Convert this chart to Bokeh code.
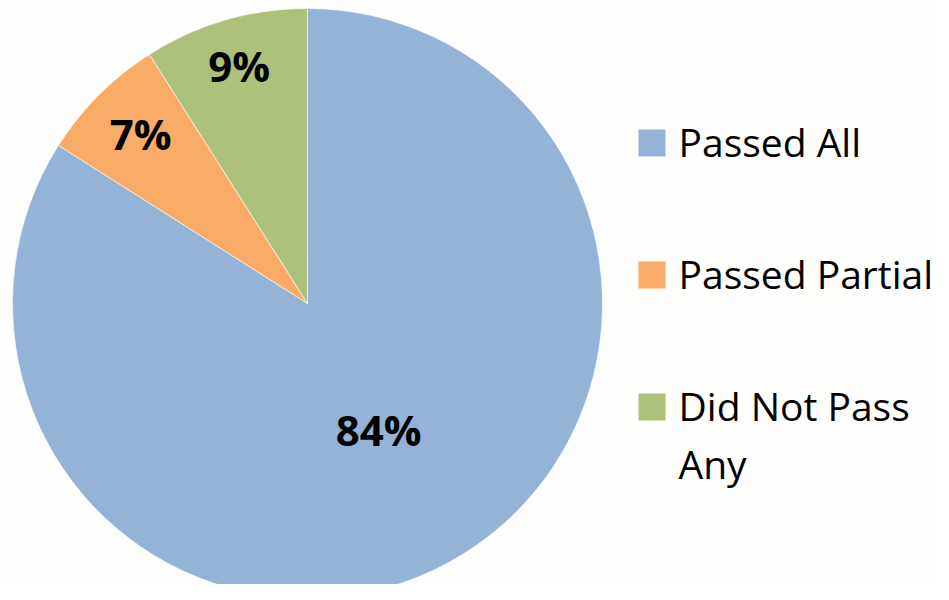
import math
from bokeh.plotting import figure
from bokeh.models import ColumnDataSource
from bokeh.core.properties import value
from bokeh.embed import file_html
from bokeh.resources import INLINE

categories = ["Passed All", "Passed Partial", "Did Not Pass Any"]
shares = [84, 7, 9]
labels = ["84%", "7%", "9%"]
colors = ["#95B3D6", "#F9AC67", "#ADC17A"]
legend_lines = [["Passed All"], ["Passed Partial"], ["Did Not Pass", "Any"]]

W, H = 933, 584
p = figure(width=W, height=H, x_range=(0, W), y_range=(0, H),
           output_backend="svg", toolbar_location=None,
           x_axis_type=None, y_axis_type=None, min_border=0)
p.outline_line_color = None
p.grid.visible = False
p.background_fill_color = "#fefefd"
p.border_fill_color = "#fefefd"

cx, cy, r = 307, H - 303, 295
total = sum(shares)
starts, ends, mids = [], [], []
a = math.pi / 2
for s in shares:
    span = 2 * math.pi * s / total
    ends.append(a)
    starts.append(a - span)
    mids.append(a - span / 2)
    a -= span

src = ColumnDataSource(dict(start=starts, end=ends, color=colors, cat=categories))
p.wedge(x=cx, y=cy, radius=r, start_angle="start", end_angle="end",
        fill_color="color", line_color="white", line_width=0.6, source=src)

label_frac = [0.5, 0.8, 0.83]
lx = [cx + f * r * math.cos(m) for f, m in zip(label_frac, mids)]
ly = [cy + f * r * math.sin(m) + 3 for f, m in zip(label_frac, mids)]
p.text(x=lx, y=ly, text=labels, text_font=value("Open Sans"),
       text_font_style="bold", text_font_size="42px", text_color="black",
       text_align="center", text_baseline="middle")

# legend
sq = 27
lg_x = 638
tops = [H - 129, H - 261, H - 393]
p.rect(x=[lg_x + sq / 2] * 3, y=[t - sq / 2 for t in tops], width=sq, height=sq,
       fill_color=colors, line_color=None)
tx, ty, tt = [], [], []
for t, lines in zip(tops, legend_lines):
    for i, ln in enumerate(lines):
        tx.append(lg_x + 40)
        ty.append(t - 12 - i * 58)
        tt.append(ln)
p.text(x=tx, y=ty, text=tt, text_font=value("Open Sans"), text_font_size="39px",
       text_color="black", text_align="left", text_baseline="alphabetic")

open("out.html", "w").write(file_html(p, INLINE))
